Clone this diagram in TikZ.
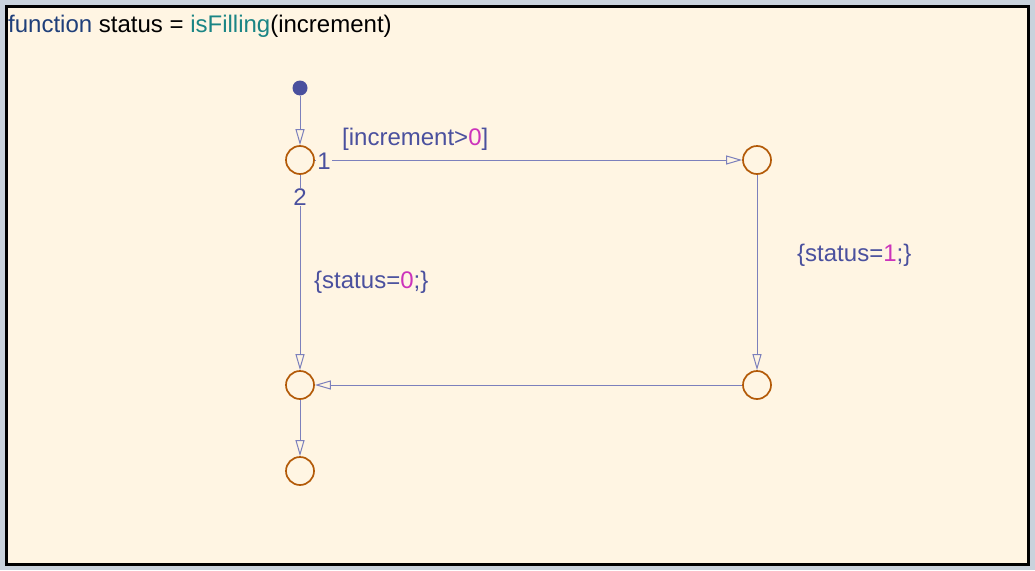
\documentclass[tikz,border=0pt]{standalone}
\usepackage{fontspec}
\setmainfont{Liberation Sans}
\usetikzlibrary{arrows.meta}
\definecolor{bgout}{HTML}{C9D2DC}
\definecolor{cream}{HTML}{FFF5E3}
\definecolor{junc}{HTML}{B35A08}
\definecolor{wire}{HTML}{7C80BC}
\definecolor{lbl}{HTML}{4A509E}
\definecolor{num}{HTML}{CC33BB}
\definecolor{kw}{HTML}{1F3F7A}
\definecolor{fn}{HTML}{1A8585}
\tikzset{
  x=1pt,y=-1pt,
  junction/.style={circle,draw=junc,line width=1.7pt,minimum size=28pt,inner sep=0pt},
  initdot/.style={circle,fill=lbl,minimum size=15pt,inner sep=0pt},
  trans/.style={draw=wire,line width=1pt,-{Triangle[open,length=16pt,width=9pt]}},
  lab/.style={text=lbl,font=\fontsize{24}{28}\selectfont,inner sep=0pt,anchor=west},
  num/.style={fill=cream,inner sep=1pt,text=lbl,font=\fontsize{24}{28}\selectfont},
}
\begin{document}
\begin{tikzpicture}
\useasboundingbox (0,0) rectangle (1035,570);
\fill[bgout] (0,0) rectangle (1035,570);
\fill[cream,draw=black,line width=3pt] (6,6) rectangle (1028,564);
\node[anchor=base west,inner sep=0pt,font=\fontsize{24}{28}\selectfont] (title) at (8,32.5)
  {\textcolor{kw}{function} status = \textcolor{fn}{isFilling}(increment)};
\node[initdot] (init) at (300,88) {};
\node[junction] (j1) at (300,160) {};
\node[junction] (j2) at (757,160) {};
\node[junction] (j3) at (300,385) {};
\node[junction] (j4) at (757,385) {};
\node[junction] (j5) at (300,471) {};
\draw[trans] (init) -- (j1);
\draw[trans] (j1) -- (j2);
\draw[trans] (j2) -- (j4);
\draw[trans] (j4) -- (j3);
\draw[trans] (j1) -- (j3);
\draw[trans] (j3) -- (j5);
\node[lab] (g1) at (342,139) {[increment>\textcolor{num}{0}]};
\node[lab] (a1) at (797,255) {\{status=\textcolor{num}{1};\}};
\node[lab] (a0) at (314,282) {\{status=\textcolor{num}{0};\}};
\node[num] (n1) at (324,161) {1};
\node[num] (n2) at (300,197) {2};
\end{tikzpicture}
\end{document}
